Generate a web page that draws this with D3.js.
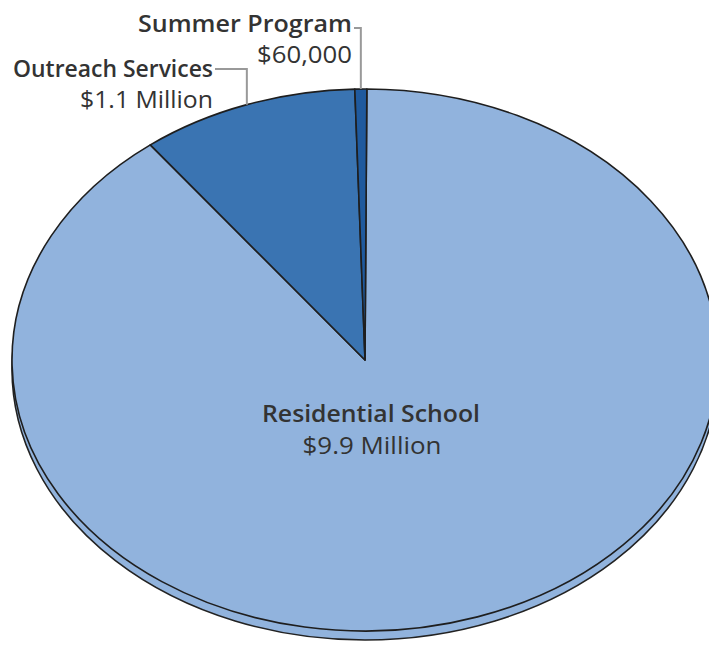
<!DOCTYPE html>
<html>
<head>
<meta charset="utf-8">
<script src="https://cdn.jsdelivr.net/npm/d3@7"></script>
<style>
  html, body { margin: 0; padding: 0; background: #fff; }
  svg { display: block; }
</style>
</head>
<body>
<svg id="chart" width="709" height="646"></svg>
<script>
// ---- data ----
const categories = ["Residential School", "Outreach Services", "Summer Program"];
const values = [9.9, 1.1, 0.06]; // millions of dollars
const valueLabels = ["$9.9 Million", "$1.1 Million", "$60,000"];
const colors = ["#91b3dd", "#3a74b2", "#1f5a9e"];

// ---- layout ----
const W = 709, H = 646;
const cx = 365, cy = 360, rx = 353, ry = 271, depth = 9;
const startDeg = 0.3;

const svg = d3.select("#chart");

const pie = d3.pie().sort(null).value(d => d.v)
  .startAngle(startDeg * Math.PI / 180)
  .endAngle(startDeg * Math.PI / 180 + 2 * Math.PI);
const data = categories.map((c, i) => ({ c, v: values[i], label: valueLabels[i], color: colors[i] }));
const arcs = pie(data);

const arc = d3.arc().innerRadius(0).outerRadius(rx);

// depth (bottom ellipse)
svg.append("ellipse")
  .attr("cx", cx).attr("cy", cy + depth)
  .attr("rx", rx).attr("ry", ry)
  .attr("fill", colors[0])
  .attr("stroke", "#222").attr("stroke-width", 1.6);

// top face
const g = svg.append("g")
  .attr("transform", `translate(${cx},${cy}) scale(1,${ry / rx})`);
g.selectAll("path").data(arcs).join("path")
  .attr("d", arc)
  .attr("fill", d => d.data.color)
  .attr("stroke", "#1e1e1e")
  .attr("stroke-width", 1.6)
  .attr("stroke-linejoin", "round")
  .attr("vector-effect", "non-scaling-stroke");

function edgePoint(a) {
  return [cx + rx * Math.sin(a), cy - ry * Math.cos(a)];
}

const textColor = "#333";
const fontFam = "'Open Sans', 'Noto Sans', sans-serif";
const fs = 24;

// Residential label (inside)
const res = arcs[0];
svg.append("text")
  .attr("x", 371).attr("y", 422)
  .attr("text-anchor", "middle")
  .attr("font-family", fontFam).attr("font-weight", 600)
  .attr("font-size", fs).attr("fill", textColor)
  .attr("textLength", 218).attr("lengthAdjust", "spacingAndGlyphs")
  .text(res.data.c);
svg.append("text")
  .attr("x", 372).attr("y", 454)
  .attr("text-anchor", "middle")
  .attr("font-family", fontFam).attr("font-weight", 400)
  .attr("font-size", fs).attr("fill", textColor)
  .attr("textLength", 139).attr("lengthAdjust", "spacingAndGlyphs")
  .text(res.data.label);

// Outside labels with leaders
const outside = [
  { a: arcs[2], nameX: 352, nameY: 32, nameW: 214, valY: 63, valW: 95, lineY: 28 },
  { a: arcs[1], nameX: 213, nameY: 77, nameW: 200, valY: 108, valW: 133, lineY: 69 }
];
outside.forEach(o => {
  const mid = (o.a.startAngle + o.a.endAngle) / 2;
  const [px, py] = edgePoint(mid);
  svg.append("path")
    .attr("d", `M${o.nameX + 2},${o.lineY} H${px} V${py}`)
    .attr("fill", "none").attr("stroke", "#999").attr("stroke-width", 2);
  svg.append("text")
    .attr("x", o.nameX).attr("y", o.nameY)
    .attr("text-anchor", "end")
    .attr("font-family", fontFam).attr("font-weight", 600)
    .attr("font-size", fs).attr("fill", textColor)
    .attr("textLength", o.nameW).attr("lengthAdjust", "spacingAndGlyphs")
    .text(o.a.data.c);
  svg.append("text")
    .attr("x", o.nameX).attr("y", o.valY)
    .attr("text-anchor", "end")
    .attr("font-family", fontFam).attr("font-weight", 400)
    .attr("font-size", fs).attr("fill", textColor)
    .attr("textLength", o.valW).attr("lengthAdjust", "spacingAndGlyphs")
    .text(o.a.data.label);
});
</script>
</body>
</html>
